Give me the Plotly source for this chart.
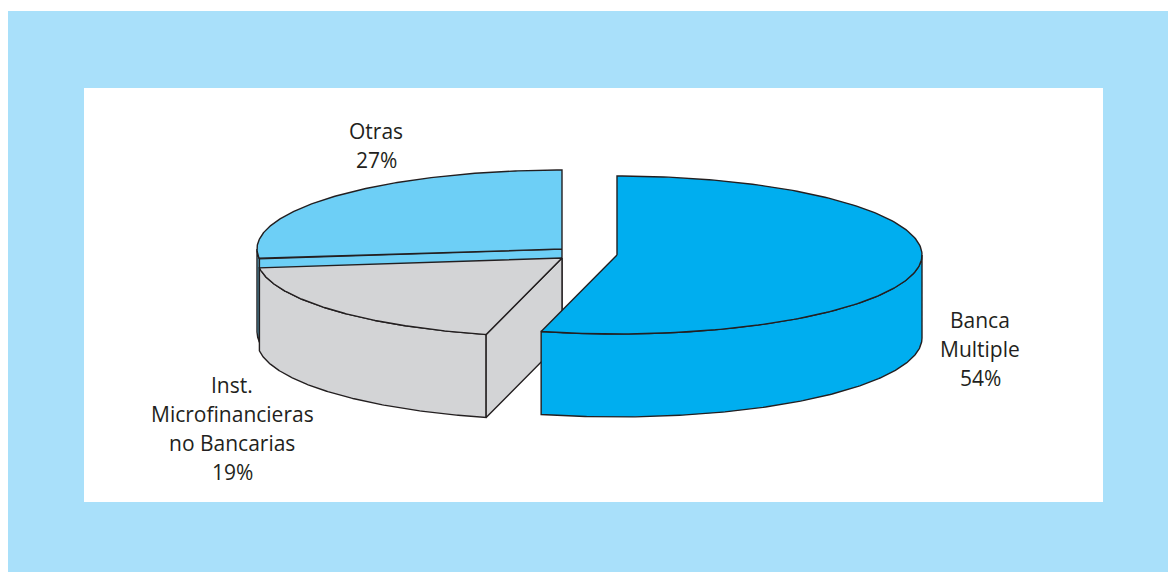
import numpy as np
import plotly.graph_objects as go

# Market share by institution type, clockwise from 12 o'clock
categories = ["Banca Multiple", "Inst. Microfinancieras no Bancarias", "Otras"]
shares = [54, 19, 27]
label_lines = [
    ["Banca", "Multiple", "54%"],
    ["Inst.", "Microfinancieras", "no Bancarias", "19%"],
    ["Otras", "27%"],
]

# Styling and pixel-space geometry of the tilted pie
colors = ["#00aeef", "#d3d4d6", "#6dcff6"]
centers = [(617, 255), (562, 258), (562, 249)]   # exploded slice centres
RX, RY, DEPTH = 305, 79, 83
label_pos = [(980, 320), (232, 385), (376, 131)]
LINE_GAP = 29
EDGE = "#231f20"
W, H = 1168, 572


def rim(cx, cy, t0, t1, dy=0.0, n=200):
    t = np.radians(np.linspace(t0, t1, n))
    return cx + RX * np.cos(t), cy + RY * np.sin(t) + dy


def poly(x, y, color):
    return go.Scatter(
        x=np.append(x, x[0]), y=np.append(y, y[0]),
        mode="lines", fill="toself", fillcolor=color,
        line=dict(color=EDGE, width=1.4), hoverinfo="skip", showlegend=False,
    )


# angular span of each slice (screen angles, y pointing down)
spans = []
start = -90.0
for s in shares:
    end = start + 360.0 * s / 100.0
    spans.append((start, end))
    start = end

traces = []
# paint from back to front: Otras, Inst., Banca
for i in [2, 1, 0]:
    cx, cy = centers[i]
    t0, t1 = spans[i]
    col = colors[i]
    # outer wall: only the part facing the viewer (0..180 deg)
    for k in (-1, 0, 1):
        a0 = max(t0, 0 + 360 * k)
        a1 = min(t1, 180 + 360 * k)
        if a1 > a0:
            xt, yt = rim(cx, cy, a0, a1)
            xb, yb = rim(cx, cy, a0, a1, DEPTH)
            traces.append(poly(np.concatenate([xt, xb[::-1]]),
                               np.concatenate([yt, yb[::-1]]), col))
    # radial cut faces visible from the front
    for ang, normal in ((t0, t0 - 90), (t1, t1 + 90)):
        if np.sin(np.radians(normal)) > 1e-6:
            ex = cx + RX * np.cos(np.radians(ang))
            ey = cy + RY * np.sin(np.radians(ang))
            traces.append(poly(np.array([cx, ex, ex, cx]),
                               np.array([cy, ey, ey + DEPTH, cy + DEPTH]), col))
    # top face
    xt, yt = rim(cx, cy, t0, t1)
    traces.append(poly(np.concatenate([[cx], xt]), np.concatenate([[cy], yt]), col))

fig = go.Figure(traces)

annotations = []
for lines, (lx, ly) in zip(label_lines, label_pos):
    for j, line in enumerate(lines):
        annotations.append(dict(
            x=lx, y=ly + j * LINE_GAP, text=line, showarrow=False,
            xanchor="center", yanchor="middle",
            font=dict(family="Open Sans", size=21, color=EDGE),
        ))

fig.update_layout(
    width=W, height=H, margin=dict(l=0, r=0, t=0, b=0),
    paper_bgcolor="white", plot_bgcolor="rgba(0,0,0,0)",
    xaxis=dict(range=[0, W], visible=False, fixedrange=True),
    yaxis=dict(range=[H, 0], visible=False, fixedrange=True),
    shapes=[
        dict(type="rect", xref="x", yref="y", x0=8, x1=W, y0=11, y1=H,
             fillcolor="#a9e0fa", line=dict(width=0), layer="below"),
        dict(type="rect", xref="x", yref="y", x0=84, x1=1103, y0=88, y1=502,
             fillcolor="white", line=dict(width=0), layer="below"),
    ],
    annotations=annotations,
    showlegend=False,
)

fig.write_html("out.html", config={"displayModeBar": False})
